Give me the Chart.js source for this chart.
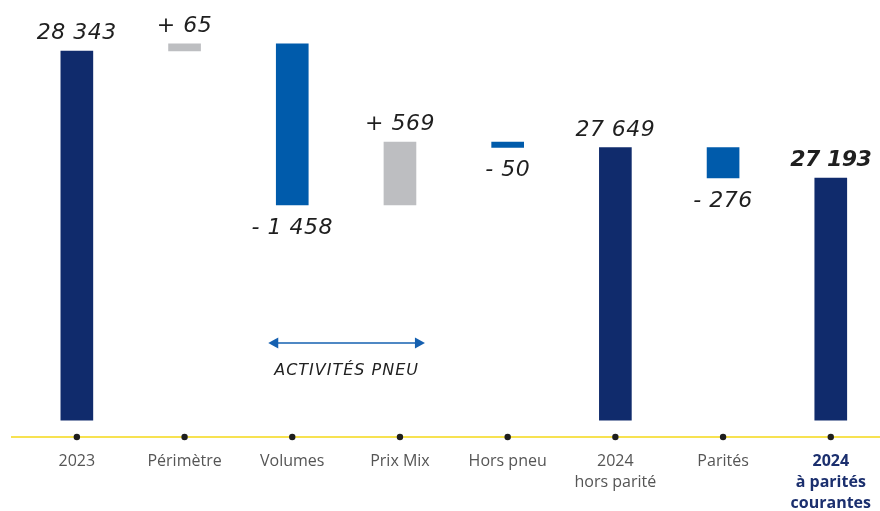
<!DOCTYPE html>
<html>
<head>
<meta charset="utf-8">
<script src="https://cdn.jsdelivr.net/npm/chart.js@4"></script>
<style>
  html, body { margin: 0; padding: 0; background: #fff; overflow: hidden; }
  #bridge { display: block; }
</style>
</head>
<body>
<canvas id="bridge" width="885" height="511"></canvas>
<script>
// --- data ---
const categories = [
  '2023', 'Périmètre', 'Volumes', 'Prix Mix', 'Hors pneu',
  ['2024', 'hors parité'], 'Parités', ['2024', 'à parités', 'courantes']
];
// floating bars: [from, to]
const barStart = [25000, 28343, 26950, 26950, 27469, 25000, 27193, 25000];
const barEnd   = [28343, 28408, 28408, 27519, 27519, 27469, 27469, 27193];
const valueLabels = ['28 343', '+ 65', '- 1 458', '+ 569', '- 50', '27 649', '- 276', '27 193'];
const barKinds = ['total', 'other', 'tyre', 'other', 'tyre', 'total', 'tyre', 'total'];

const NAVY = '#102b6c';
const BLUE = '#005bab';
const GREY = '#bdbec1';
const kindColor = { total: NAVY, tyre: BLUE, other: GREY };

// --- plugin: yellow axis line + dots, value labels, "activités pneu" arrow ---
const decorations = {
  id: 'decorations',
  afterDatasetsDraw(chart) {
    const { ctx, chartArea, scales } = chart;
    const x = scales.x;
    const base = chartArea.bottom;
    ctx.save();

    // axis line
    ctx.strokeStyle = '#f4d817';
    ctx.lineWidth = 1.5;
    ctx.beginPath();
    ctx.moveTo(11, base);
    ctx.lineTo(chart.width, base);
    ctx.stroke();

    // dots on the axis
    ctx.fillStyle = '#1e1e1e';
    categories.forEach((c, i) => {
      ctx.beginPath();
      ctx.arc(x.getPixelForValue(i), base, 3.2, 0, Math.PI * 2);
      ctx.fill();
    });

    // value labels
    const bars = chart.getDatasetMeta(0).data;
    ctx.fillStyle = '#1f1f1f';
    ctx.textAlign = 'center';
    bars.forEach((bar, i) => {
      const txt = valueLabels[i];
      const last = i === bars.length - 1;
      ctx.font = (last ? 'italic bold ' : 'italic ') + '22px "DejaVu Sans"';
      ctx.letterSpacing = last ? '-0.5px' : '0.5px';
      const top = Math.min(bar.y, bar.base);
      const bottom = Math.max(bar.y, bar.base);
      if (txt.startsWith('-')) {
        ctx.textBaseline = 'top';
        ctx.fillText(txt, bar.x, bottom + 12);
      } else {
        ctx.textBaseline = 'alphabetic';
        ctx.fillText(txt, bar.x, top - 12);
      }
    });
    ctx.letterSpacing = '0px';

    // "ACTIVITÉS PNEU" double arrow
    const x1 = x.getPixelForValue(2) - 24;
    const x2 = x.getPixelForValue(3) + 25;
    const ay = base - 94;
    ctx.strokeStyle = '#1560b0';
    ctx.fillStyle = '#1560b0';
    ctx.lineWidth = 1.5;
    ctx.beginPath();
    ctx.moveTo(x1 + 6, ay);
    ctx.lineTo(x2 - 6, ay);
    ctx.stroke();
    ctx.beginPath();
    ctx.moveTo(x1, ay); ctx.lineTo(x1 + 10, ay - 5.5); ctx.lineTo(x1 + 10, ay + 5.5); ctx.closePath();
    ctx.fill();
    ctx.beginPath();
    ctx.moveTo(x2, ay); ctx.lineTo(x2 - 10, ay - 5.5); ctx.lineTo(x2 - 10, ay + 5.5); ctx.closePath();
    ctx.fill();

    ctx.fillStyle = '#222';
    ctx.font = 'italic 16px "DejaVu Sans"';
    ctx.letterSpacing = '1px';
    ctx.textAlign = 'center';
    ctx.textBaseline = 'alphabetic';
    ctx.fillText('ACTIVITÉS PNEU', (x1 + x2) / 2, base - 62);
    ctx.letterSpacing = '0px';

    ctx.restore();
  }
};

new Chart(document.getElementById('bridge'), {
  type: 'bar',
  data: {
    labels: categories,
    datasets: [{
      data: barStart.map((s, i) => [s, barEnd[i]]),
      backgroundColor: barKinds.map(k => kindColor[k]),
      borderWidth: 0,
      borderSkipped: false,
      barThickness: 32
    }]
  },
  options: {
    responsive: false,
    animation: false,
    devicePixelRatio: 1,
    layout: { padding: { left: 23, right: 0, top: 0, bottom: 0 } },
    plugins: {
      legend: { display: false },
      tooltip: { enabled: false }
    },
    scales: {
      x: {
        offset: true,
        grid: { display: false, drawTicks: false },
        border: { display: false },
        afterFit: (scale) => { scale.height = 74; },
        ticks: {
          autoSkip: false,
          maxRotation: 0,
          padding: 14,
          color: (ctx) => ctx.index === categories.length - 1 ? '#1b2f6e' : '#555',
          font: (ctx) => ({
            family: '"Open Sans"',
            size: 16,
            weight: ctx.index === categories.length - 1 ? 'bold' : 'normal',
            lineHeight: 1.3
          })
        }
      },
      y: {
        display: false,
        min: 24848,
        max: 28805
      }
    }
  },
  plugins: [decorations]
});
</script>
</body>
</html>
